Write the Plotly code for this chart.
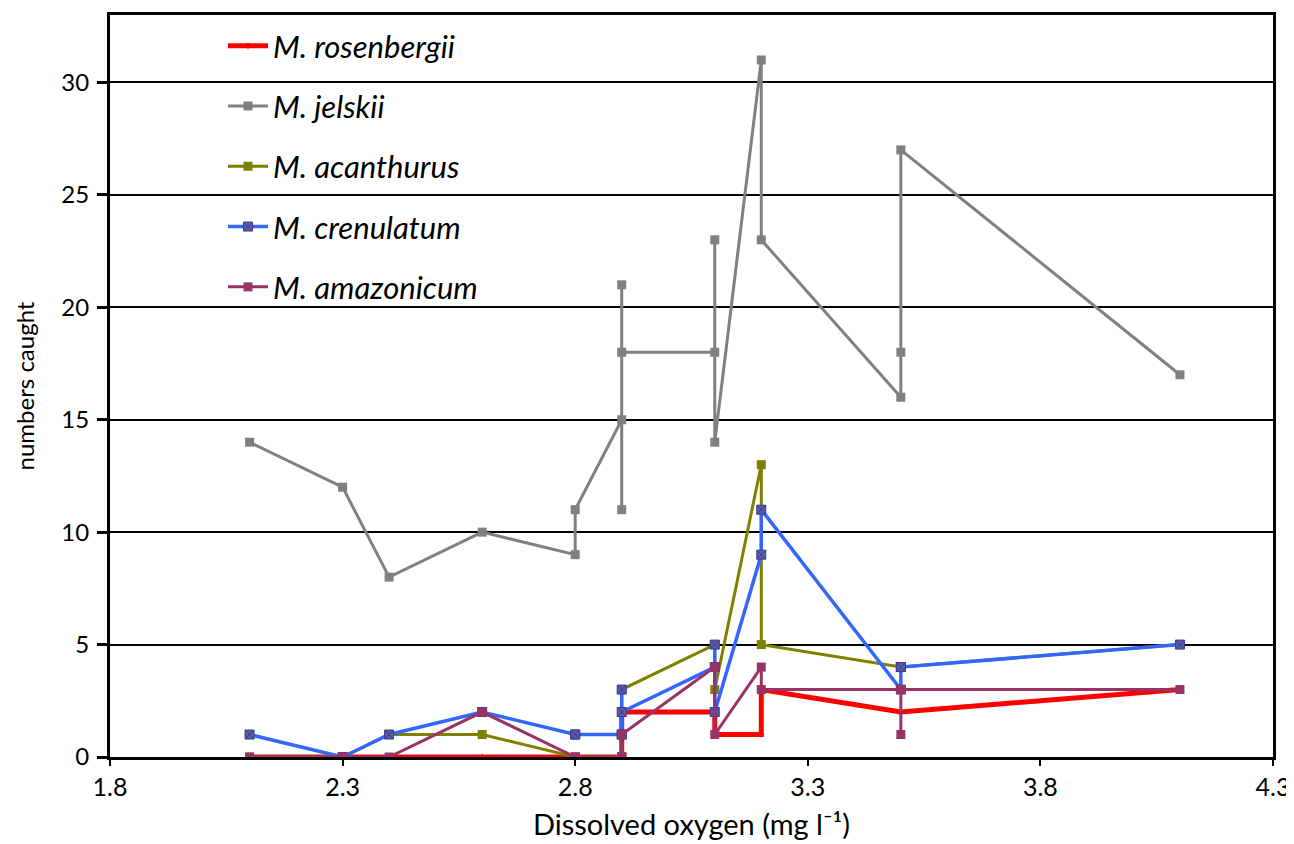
import plotly.graph_objects as go

# Dissolved oxygen (mg l-1) of each sample
x_do = [2.1, 2.3, 2.4, 2.6, 2.8, 2.8, 2.9, 2.9, 2.9, 2.9, 3.1, 3.1, 3.1, 3.2, 3.2, 3.5, 3.5, 3.5, 4.1]

rosenbergii = [0, 0, 0, 0, 0, 0, 0, 0, 0, 2, 2, 2, 1, 1, 3, 2, 2, 2, 3]
jelskii = [14, 12, 8, 10, 9, 11, 15, 11, 21, 18, 18, 23, 14, 31, 23, 16, 18, 27, 17]
acanthurus = [0, 0, 1, 1, 0, 0, 0, 0, 0, 3, 5, 5, 3, 13, 5, 4, 4, 4, 5]
crenulatum = [1, 0, 1, 2, 1, 1, 1, 1, 3, 2, 4, 5, 2, 9, 11, 3, 4, 4, 5]
amazonicum = [0, 0, 0, 2, 0, 0, 0, 0, 0, 1, 4, 4, 1, 4, 3, 3, 1, 3, 3]

y_ticks = [0, 5, 10, 15, 20, 25, 30]
x_ticks = [1.8, 2.3, 2.8, 3.3, 3.8, 4.3]

FONT = "Lato"

series = [
    ("M. rosenbergii", rosenbergii, "#FF0000", 5, dict(symbol="diamond", size=5, color="#FF0000")),
    ("M. jelskii", jelskii, "#808080", 3, dict(symbol="square", size=9, color="#808080")),
    ("M. acanthurus", acanthurus, "#808000", 3, dict(symbol="square", size=9, color="#808000")),
    ("M. crenulatum", crenulatum, "#3366FF", 3.5,
     dict(symbol="square-x", size=9, color="#5B5EA6", line=dict(color="#3B3B8A", width=1))),
    ("M. amazonicum", amazonicum, "#993366", 3, dict(symbol="square", size=9, color="#993366")),
]

fig = go.Figure()
for i, (name, vals, col, w, mk) in enumerate(series):
    fig.add_trace(go.Scatter(
        x=x_do, y=vals, mode="lines+markers", name=name,
        line=dict(color=col, width=w), marker=mk,
        legendgroup=f"g{i}",
    ))

# white box behind the legend hiding the grid lines
fig.add_shape(type="rect", xref="paper", yref="paper",
              x0=(183 - 110) / 1163, x1=(533 - 110) / 1163,
              y0=(757 - 325) / 742, y1=1,
              fillcolor="white", line=dict(width=0), layer="between")

# page body adds an 8 px offset
fig.update_layout(
    width=1286, height=836,
    margin=dict(l=102, r=21, t=7, b=87),
    paper_bgcolor="white", plot_bgcolor="white",
    font=dict(family=FONT, size=24, color="black"),
    showlegend=True,
    legend=dict(
        x=(223 - 110) / 1163, y=1 - 4 / 742, xanchor="left", yanchor="top",
        bgcolor="rgba(0,0,0,0)", borderwidth=0,
        font=dict(family=FONT, size=31, style="italic", color="black"),
        traceorder="grouped", tracegroupgap=17, itemwidth=40,
    ),
    xaxis=dict(
        range=[1.8, 4.3], tickvals=x_ticks, ticktext=[f"{v:.1f}" for v in x_ticks],
        showgrid=False, zeroline=False, automargin=False,
        showline=True, linecolor="black", linewidth=3, mirror=True,
        ticks="outside", ticklen=6, tickwidth=2, tickcolor="black",
        ticklabeloverflow="allow",
        title=dict(text="Dissolved oxygen (mg l⁻¹)", font=dict(size=29), standoff=15),
        tickfont=dict(size=25),
    ),
    yaxis=dict(
        range=[0, 33], tickvals=y_ticks,
        showgrid=True, gridcolor="black", gridwidth=2, zeroline=False, automargin=False,
        showline=True, linecolor="black", linewidth=3, mirror=True,
        ticks="outside", ticklen=10, tickwidth=3, tickcolor="black",
        ticklabelstandoff=3,
        title=dict(text="numbers caught", font=dict(size=24), standoff=20),
        tickfont=dict(size=24),
    ),
)

fig.write_html("out.html")
